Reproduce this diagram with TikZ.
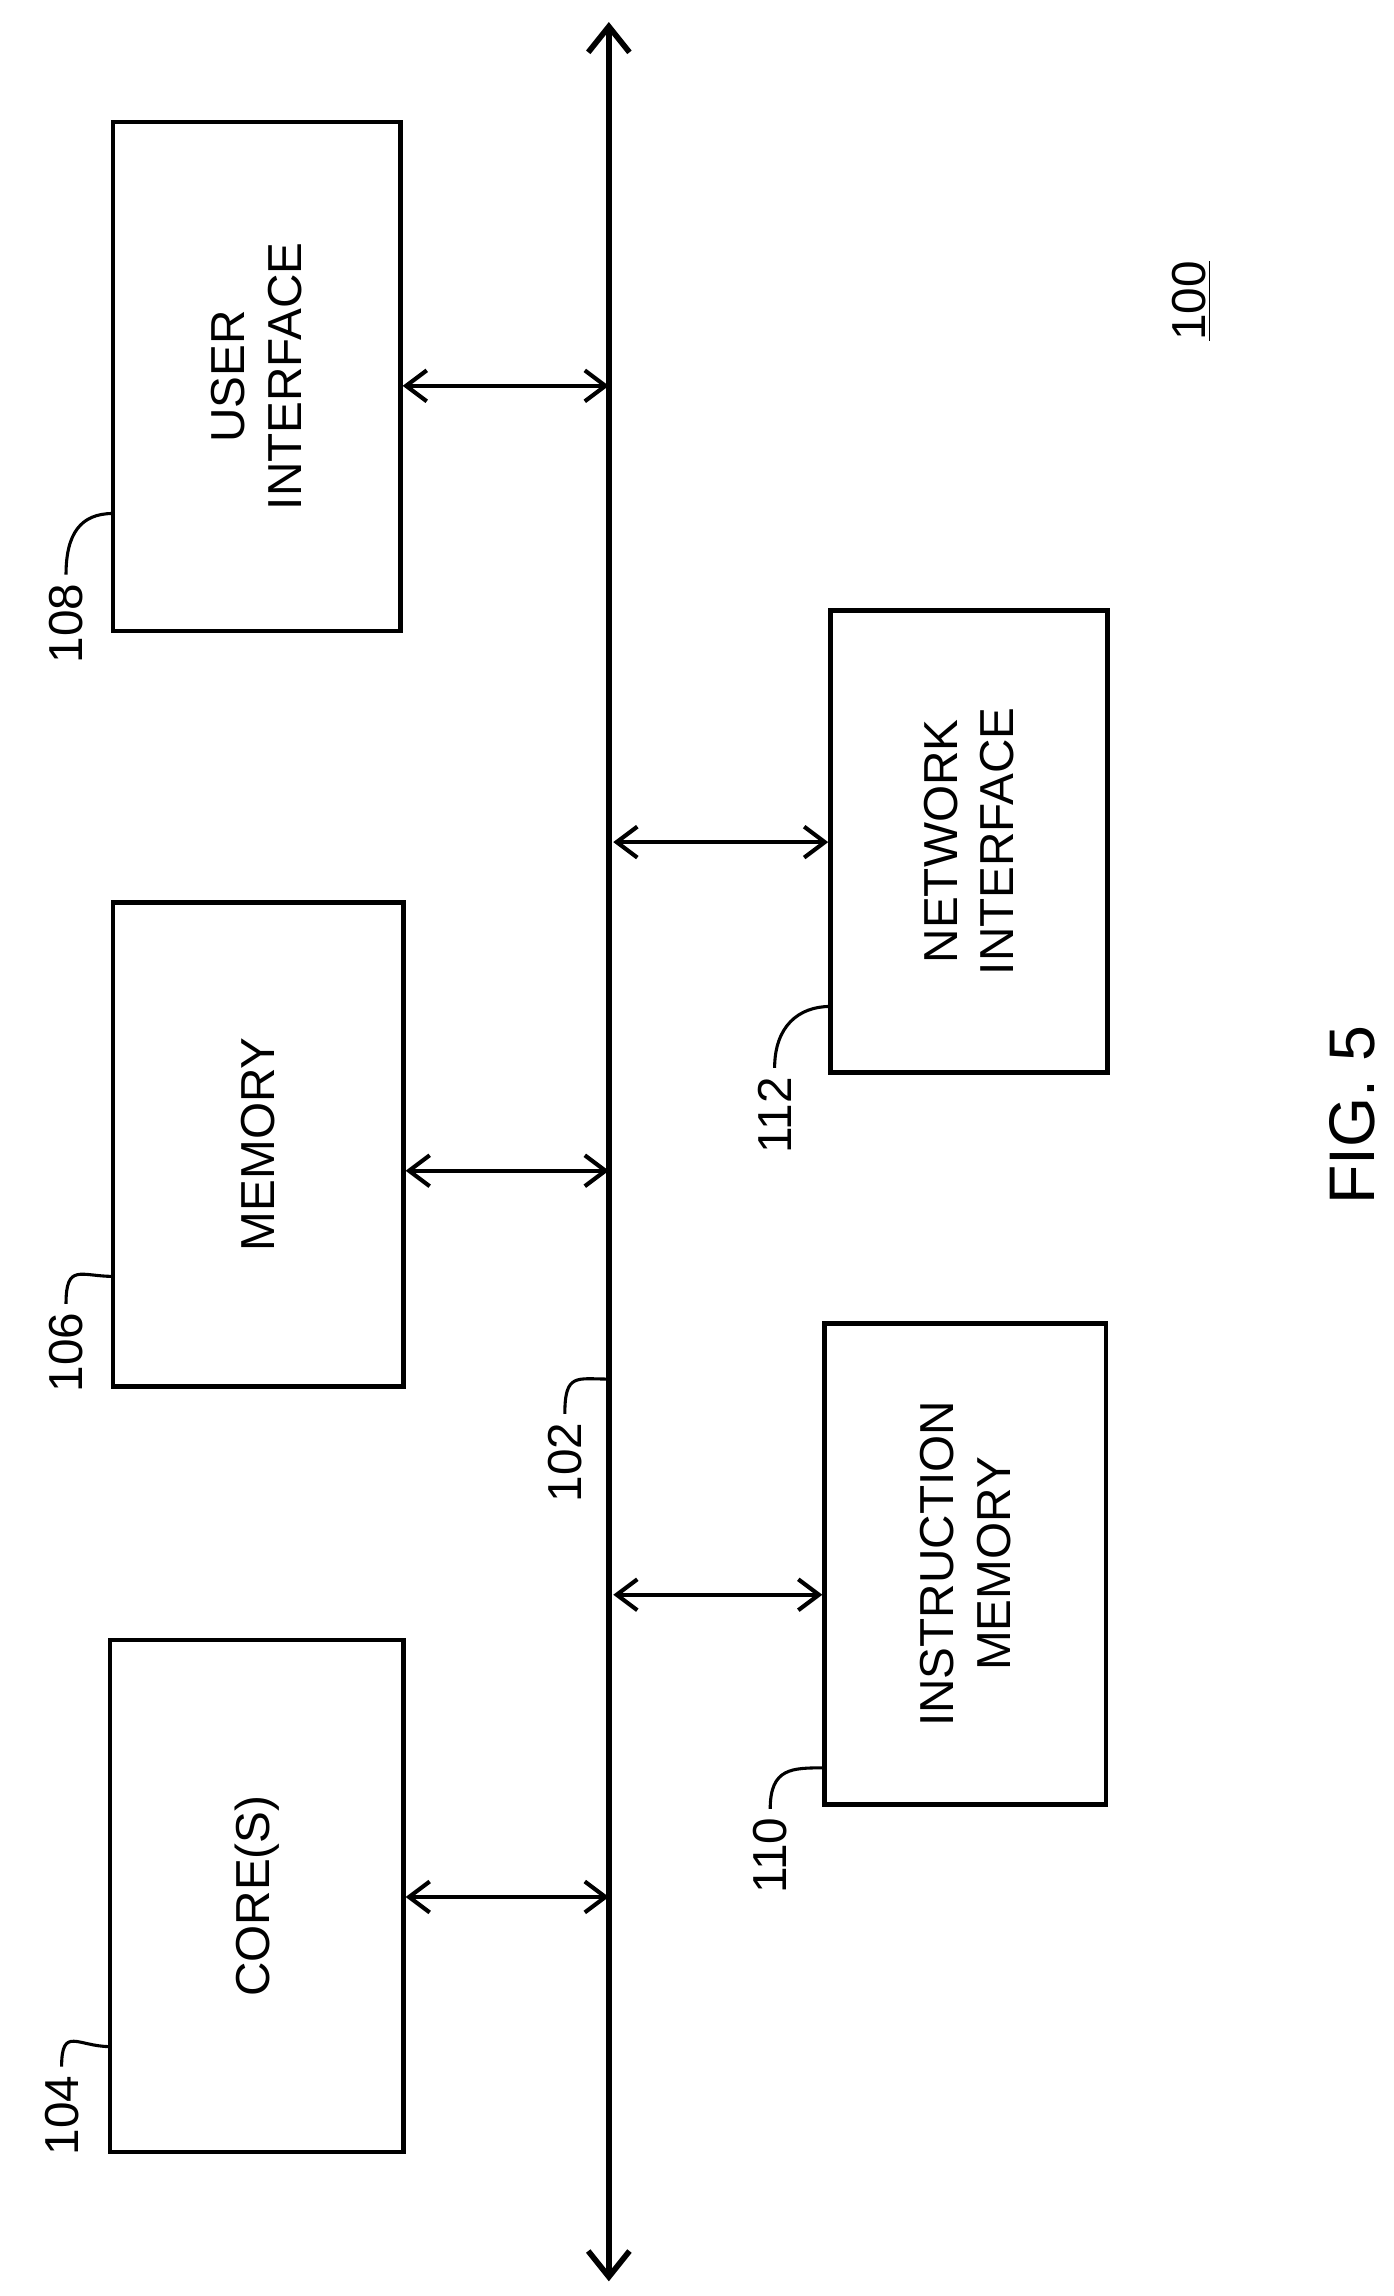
\documentclass[tikz,border=0pt]{standalone}
\usepackage{fontspec}
\setmainfont{Liberation Sans}
\usetikzlibrary{arrows.meta}
\begin{document}
\begin{tikzpicture}[x=0.02cm,y=-0.02cm,
    box/.style={draw,line width=1.7pt,minimum width=#1},
    lbl/.style={rotate=90,font=\fontsize{18.5}{22}\selectfont,align=center},
    link/.style={line width=1.6pt,{Straight Barb[length=8pt,width=12pt]}-{Straight Barb[length=8pt,width=12pt]}},
    lead/.style={line width=1.2pt}]
  \useasboundingbox (0,0) rectangle (950,1565);

  % bus
  \coordinate (top) at (415,15);
  \coordinate (bot) at (415,1555);
  \draw[line width=2.2pt,{Straight Barb[length=10pt,width=16pt]}-{Straight Barb[length=10pt,width=16pt]}] (top) -- (bot);

  % boxes
  \node[box=3.92cm,minimum height=6.94cm] (ui) at (175,256.5) {};
  \node[lbl] (tui) at (ui) {USER\\INTERFACE};
  \node[box=3.96cm,minimum height=6.6cm] (mem) at (176,780) {};
  \node[lbl] (tmem) at (mem) {MEMORY};
  \node[box=4cm,minimum height=6.98cm] (core) at (175,1292.5) {};
  \node[lbl] (tcore) at (core) {CORE(S)};
  \node[box=3.78cm,minimum height=6.3cm] (net) at (660.5,573.5) {};
  \node[lbl] (tnet) at (net) {NETWORK\\INTERFACE};
  \node[box=3.84cm,minimum height=6.56cm] (instr) at (658,1066) {};
  \node[lbl] (tinstr) at (instr) {INSTRUCTION\\MEMORY};

  % taps on the bus
  \coordinate (b1) at (415,263);
  \coordinate (b2) at (415,798);
  \coordinate (b3) at (415,1293);
  \coordinate (b4) at (418,574);
  \coordinate (b5) at (418,1087);
  \draw[link] (ui.east |- b1) -- (b1);
  \draw[link] (mem.east |- b2) -- (b2);
  \draw[link] (core.east |- b3) -- (b3);
  \draw[link] (b4) -- (net.west |- b4);
  \draw[link] (b5) -- (instr.west |- b5);

  % reference numerals
  \node[lbl] (l108) at (45,425) {108};
  \node[lbl] (l106) at (45,922) {106};
  \node[lbl] (l104) at (42,1442) {104};
  \node[lbl] (l102) at (385,997) {102};
  \node[lbl] (l110) at (525,1265) {110};
  \node[lbl] (l112) at (528,760) {112};
  \coordinate (p108) at (77,350);
  \coordinate (p106) at (77,870);
  \coordinate (p104) at (75,1395);
  \coordinate (p102) at (415,940);
  \coordinate (p110) at (562,1205);
  \coordinate (p112) at (566,686);
  \foreach \n in {108,106,104,102,110,112}
    \draw[lead] (l\n.east) .. controls +(0,-28) and +(-22,0) .. (p\n);

  \node[lbl] (l100) at (812,205) {\underline{100}};
  \node[rotate=90,font=\fontsize{25}{30}\selectfont] (fig) at (922,760) {FIG. 5};
\end{tikzpicture}
\end{document}
